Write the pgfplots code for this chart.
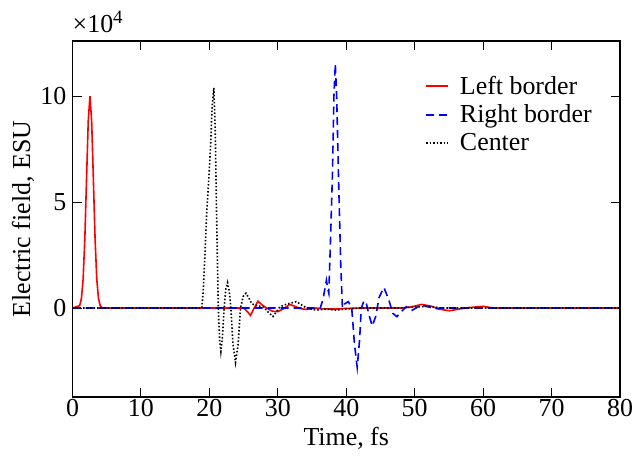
\documentclass[border=0pt]{standalone}
\usepackage{fontspec}
\setmainfont{Liberation Serif}
\usepackage{pgfplots}
\pgfplotsset{compat=1.18}
\begin{document}
\begin{tikzpicture}[font=\fontsize{26}{30}\selectfont]
\begin{axis}[
  scale only axis, width=547.5bp, height=356bp,
  xmin=0, xmax=80, ymin=-42000, ymax=126000,
  xtick={0,10,...,80}, ytick={0,50000,100000},
  scaled y ticks=base 10:-4,
  ytick scale label code/.code={×10\raisebox{9bp}{\fontsize{19}{20}\selectfont 4}},
  every y tick scale label/.style={at={(rel axis cs:0,1)}, anchor=south west, inner sep=0pt, yshift=8bp},
  /pgf/number format/assume math mode=true,
  tick align=inside, major tick length=9bp,
  axis line style={line width=1.3bp},
  every tick/.style={line width=1bp, black},
  tick label style={font=\fontsize{26}{30}\selectfont},
  xticklabel style={inner sep=2bp},
  yticklabel style={inner sep=6bp},
  label style={font=\fontsize{26}{30}\selectfont},
  xlabel={Time, fs}, ylabel={Electric field, ESU},
  xlabel style={inner sep=0pt, yshift=-8bp}, ylabel style={inner sep=0pt, yshift=0bp},
  legend cell align=left,
  legend style={draw=none, fill=none, at={(rel axis cs:0.644,0.907)}, anchor=north west, inner sep=0pt, row sep=5bp, column sep=9bp,
    font=\fontsize{26}{30}\selectfont},
  legend image post style={xscale=1.3},
]
\addplot[red, line width=1.6bp] coordinates {
(0,0) (1.05,1100) (1.3,4400) (1.55,13500) (1.8,32500) (2.05,60700) (2.3,88200) (2.55,100000) (2.8,88200) (3.05,60700) (3.3,32500) (3.55,13500) (3.8,4400) (4.05,1100) (4.4,0)
(25.0,0) (25.5,-1500) (26.0,-3500) (26.5,-300) (27.1,3200) (27.7,1500) (28.35,0) (29.2,-1500) (30.0,-1700) (30.8,-400) (31.75,1700) (32.5,800) (33.3,-300) (34.2,-700) (35.6,0) (36.5,-400) (38.5,-500) (40,-200) (42,0) (48,0) (49.5,500) (51.0,1700) (52.5,800) (53.5,-500) (55.1,-1300) (56.5,-500) (58,200) (60,800) (61.5,0) (80,0)
};
\addlegendentry{Left border}
\addplot[blue, line width=1.6bp, dash pattern=on 8bp off 5bp] coordinates {
(0,0) (36.2,0) (36.6,4000) (37.1,13100) (37.3,9000) (37.45,7000) (37.7,32000) (37.98,63000) (38.2,100000) (38.4,115200) (38.6,100000) (38.9,58000) (39.2,20000) (39.44,0) (39.8,2000) (40.3,3000) (40.8,0) (41.2,-17000) (41.6,-28000) (41.95,-15000) (42.2,0) (42.55,3000) (42.85,3400) (43.3,-3000) (43.8,-8500) (44.3,-4000) (44.8,5000) (45.5,9700) (46.2,4000) (46.8,-2500) (47.4,-4100) (48.1,-1500) (48.8,600) (49.5,-1300) (50.2,0) (51.0,1400) (52,500) (53,-300) (54,0) (80,0)
};
\addlegendentry{Right border}
\addplot[black, line width=1.6bp, dash pattern=on 1.5bp off 2bp] coordinates {
(0,0) (18.9,0) (19.1,8000) (19.35,25000) (19.6,44600) (19.9,60000) (20.17,76000) (20.4,95000) (20.65,103900) (20.85,85000) (21.05,45000) (21.3,0) (21.5,-15000) (21.68,-20500) (21.9,-14000) (22.16,0) (22.4,9000) (22.66,12000) (22.9,8000) (23.14,0) (23.45,-17000) (23.82,-25700) (24.2,-17000) (24.55,0) (24.95,5500) (25.35,7000) (25.8,4500) (26.2,2000) (27.0,1000) (27.9,500) (28.6,-2000) (29.3,-4000) (30.3,500) (31.0,1500) (31.75,2200) (32.7,3000) (33.5,1400) (34.2,0) (35.6,-1000) (37.1,-500) (38.5,-1000) (40,-500) (42,0) (48,0) (50,500) (52,800) (54,0) (80,0)
};
\addlegendentry{Center}
\end{axis}
\pgfresetboundingbox
\path[use as bounding box] ([xshift=-72.5bp,yshift=-60bp]current axis.south west) rectangle ([xshift=13bp,yshift=41bp]current axis.north east);
\end{tikzpicture}
\end{document}
